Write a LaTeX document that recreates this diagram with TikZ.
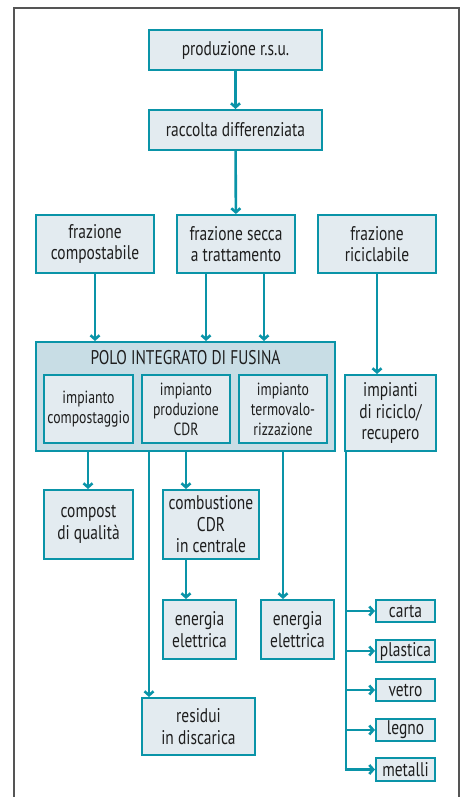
\documentclass[tikz,border=0pt]{standalone}
\usepackage{fontspec}
\setmainfont[FakeStretch=0.78]{PT Sans}
\usetikzlibrary{arrows.meta,calc}
\definecolor{tealc}{RGB}{10,148,168}
\definecolor{boxfill}{RGB}{227,235,240}
\definecolor{polofill}{RGB}{200,221,229}
\definecolor{txt}{RGB}{30,30,30}
\definecolor{framec}{RGB}{85,85,85}
\tikzset{
  box/.style={draw=tealc, fill=boxfill, line width=2pt, inner sep=0pt, align=center,
    text=txt, font=\fontsize{19.8}{21.5}\selectfont},
  smallbox/.style={box, font=\fontsize{17.6}{20}\selectfont},
  conn/.style={draw=tealc, line width=2.6pt},
  arr/.style={conn, -{Straight Barb[length=4pt,width=9pt]}},
}
\newcommand{\bx}[7][box]{% style, name, x1,y1,x2,y2, text
  \node[#1, minimum width=#5-#3, minimum height=#6-#4] (#2) at ({(#3+#5)/2},{(#4+#6)/2}) {#7};}
\begin{document}
\begin{tikzpicture}[x=1pt,y=-1pt]
\useasboundingbox (0,0) rectangle (463,797);
\fill[white] (0,0) rectangle (463,797);
\draw[framec, line width=2pt] (14,820) -- (14,8) -- (459,8) -- (459,820);
% top
\bx{prod}{149}{30}{322}{70}{produzione r.s.u.}
\bx{racc}{149}{110}{322}{150}{raccolta differenziata}
\bx{fcomp}{36}{215}{154}{273}{frazione\\compostabile}
\bx{fsec}{177}{215}{295}{273}{frazione secca\\a trattamento}
\bx{fric}{318}{215}{436}{273}{frazione\\riciclabile}
% polo
\node[draw=tealc, fill=polofill, line width=2pt, minimum width=299, minimum height=109, inner sep=0pt] (polo) at (185.5,396.5) {};
\node[text=txt, font=\fontsize{19.8}{21.5}\selectfont, inner sep=0pt] (polot) at (185.5,358) {POLO INTEGRATO DI FUSINA};
\bx[smallbox]{icomp}{44}{375}{133}{443}{impianto\\compostaggio}
\bx[smallbox]{icdr}{142}{375}{230}{443}{impianto\\produzione\\CDR}
\bx[smallbox]{iterm}{239}{375}{327}{443}{impianto\\termovalo-\\rizzazione}
\bx{iric}{345}{375}{436}{451}{impianti\\di riciclo/\\recupero}
% lower
\bx{compost}{44}{490}{133}{559}{compost\\di qualità}
\bx{comb}{163}{490}{259}{559}{combustione\\CDR\\in centrale}
\bx{en1}{163}{600}{236}{659}{energia\\elettrica}
\bx{en2}{261}{600}{334}{659}{energia\\elettrica}
\bx{resid}{142}{698}{255}{755}{residui\\in discarica}
\bx{carta}{376}{600}{435}{622}{carta}
\bx{plast}{376}{640}{435}{662}{plastica}
\bx{vetro}{376}{679}{435}{701}{vetro}
\bx{legno}{376}{719}{435}{741}{legno}
\bx{metal}{376}{758}{435}{781}{metalli}
% connector x positions
\coordinate (xa) at (95,0);
\coordinate (xb) at (206,0);
\coordinate (xc) at (264,0);
\coordinate (xd) at (377,0);
\coordinate (xe) at (88,0);
\coordinate (xf) at (149,0);
\coordinate (xg) at (186,0);
\coordinate (xh) at (283,0);
\coordinate (xi) at (346,0);
% connectors
\draw[arr] (prod) -- (racc);
\draw[arr] (racc) -- (fsec);
\draw[arr] (xa |- fcomp.south) -- (xa |- polo.north);
\draw[arr] (xb |- fsec.south) -- (xb |- polo.north);
\draw[arr] (xc |- fsec.south) -- (xc |- polo.north);
\draw[arr] (xd |- fric.south) -- (xd |- iric.north);
\draw[arr] (xe |- polo.south) -- (xe |- compost.north);
\draw[arr] (xf |- polo.south) -- (xf |- resid.north);
\draw[arr] (xg |- polo.south) -- (xg |- comb.north);
\draw[arr] (xg |- comb.south) -- (xg |- en1.north);
\draw[arr] (xh |- polo.south) -- (xh |- en2.north);
\draw[conn] (xi |- iric.south) -- (xi |- metal.west);
\draw[arr] (xi |- carta.west) -- (carta.west);
\draw[arr] (xi |- plast.west) -- (plast.west);
\draw[arr] (xi |- vetro.west) -- (vetro.west);
\draw[arr] (xi |- legno.west) -- (legno.west);
\draw[arr] ([xshift=-1.3pt]xi |- metal.west) -- (metal.west);
\end{tikzpicture}
\end{document}
